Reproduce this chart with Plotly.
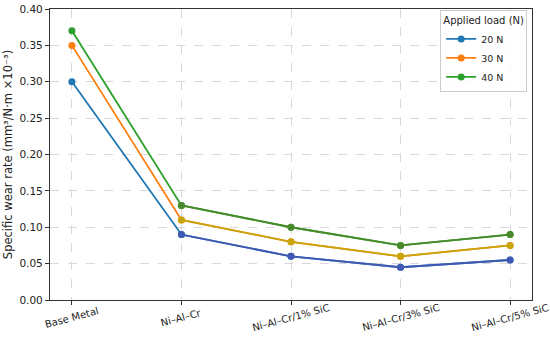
import plotly.graph_objects as go

categories = ["Base Metal", "Ni–Al–Cr", "Ni–Al–Cr/1% SiC", "Ni–Al–Cr/3% SiC", "Ni–Al–Cr/5% SiC"]
load_20 = [0.30, 0.09, 0.06, 0.045, 0.055]
load_30 = [0.35, 0.11, 0.08, 0.06, 0.075]
load_40 = [0.37, 0.13, 0.10, 0.075, 0.09]
series_names = ["20 N", "30 N", "40 N"]
colors = ["#1f77b4", "#ff7f0e", "#2ca02c"]
later_colors = ["#4159b5", "#c9a50c", "#4a8a2c"]

fig = go.Figure()
xs = list(range(len(categories)))
for name, vals, c in zip(series_names, [load_20, load_30, load_40], colors):
    fig.add_trace(go.Scatter(x=xs, y=vals, mode="lines+markers", name=name,
                             line=dict(color=c, width=1.8),
                             marker=dict(color=c, size=7)))
for name, vals, c2 in zip(series_names, [load_20, load_30, load_40], later_colors):
    fig.add_trace(go.Scatter(x=xs[1:], y=vals[1:], mode="lines+markers", name=name,
                             showlegend=False, hoverinfo="skip",
                             line=dict(color=c2, width=1.8),
                             marker=dict(color=c2, size=7)))

axis_common = dict(showline=True, linecolor="#333333", linewidth=1.2, mirror=True,
                   ticks="outside", ticklen=4, tickcolor="#333333", automargin=False,
                   showgrid=True, gridcolor="#d9d9d9", griddash="dash", gridwidth=0.8,
                   zeroline=False, tickfont=dict(family="DejaVu Sans", size=10.5, color="#222"))

for x, label in zip(xs, categories):
    fig.add_annotation(x=x, y=0, xref="x", yref="paper", text=label, showarrow=False,
                       textangle=-15, xanchor="center", yanchor="middle", yshift=-17,
                       font=dict(family="DejaVu Sans", size=10, color="#222"))

fig.update_layout(
    width=550, height=343,
    margin=dict(l=50, r=18, t=9, b=43),
    plot_bgcolor="white", paper_bgcolor="white",
    font=dict(family="DejaVu Sans", size=10, color="#222"),
    xaxis=dict(tickmode="array", tickvals=xs, ticktext=categories, range=[-0.2, 4.2],
               showticklabels=False, **axis_common),
    yaxis=dict(range=[0, 0.40], dtick=0.05, tickformat=".2f",
               title=dict(text="Specific wear rate (mm³/N·m ×10⁻³)", standoff=4,
                          font=dict(family="DejaVu Sans", size=11.5)),
               **axis_common),
    legend=dict(x=0.99, y=0.995, xanchor="right", yanchor="top",
                bgcolor="rgba(255,255,255,0.85)", bordercolor="#cccccc", borderwidth=1,
                title=dict(text="Applied load (N)", side="top center",
                           font=dict(family="DejaVu Sans", size=10)),
                font=dict(family="DejaVu Sans", size=9.5), itemwidth=30),
)

fig.write_html("out.html", config={"displayModeBar": False},
               post_script="document.body.style.margin='0';")
